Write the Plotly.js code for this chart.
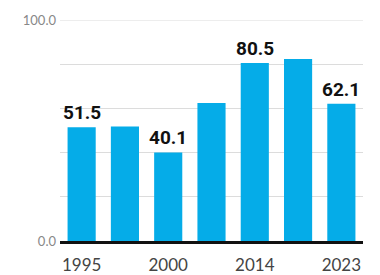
<!DOCTYPE html>
<html><head><meta charset="utf-8">
<script src="https://cdn.plot.ly/plotly-3.0.1.min.js"></script>
<style>html,body{margin:0;padding:0;background:#fff;}#chart{width:380px;height:275px;}</style>
</head><body><div id="chart"></div>
<script>
const categories = ['1995','1997','2000','2008','2014','2018','2023'];
const values = [51.5, 51.8, 40.1, 62.4, 80.5, 82.4, 62.1];
const valueLabels = ['51.5','','40.1','','80.5','','62.1'];
const xTickLabels = ['1995','','2000','','2014','','2023'];
const yTickVals = [0,20,40,60,80,100];
const yTickText = ['0.0','','','','','100.0'];

const annotations = [];
for (let i = 0; i < categories.length; i++) {
  if (valueLabels[i] !== '') {
    annotations.push({x:i, y:values[i], xref:'x', yref:'y', text:'<b>' + valueLabels[i] + '</b>',
      showarrow:false, yanchor:'bottom', yshift:1,
      font:{family:'Roboto', size:19, color:'#111'}});
  }
}

Plotly.newPlot('chart', [{
  type:'bar', x:categories, y:values,
  marker:{color:'#05ace8'}, hoverinfo:'none'
}], {
  width:380, height:275,
  margin:{l:60,r:17,t:20,b:34},
  paper_bgcolor:'#fff', plot_bgcolor:'#fff',
  bargap:0.35, showlegend:false,
  annotations:annotations,
  shapes:[{type:'line', xref:'paper', yref:'y', x0:0, x1:1, y0:100, y1:100, line:{color:'#dcdcdc', width:1}, layer:'below'}],
  xaxis:{type:'category', tickvals:categories, ticktext:xTickLabels,
    showline:true, linecolor:'#111', linewidth:3, showgrid:false, ticks:'',
    tickfont:{family:'Lato', size:17, color:'#444'}, ticklabelstandoff:7, range:[-0.5,6.5]},
  yaxis:{range:[0,100], tickvals:yTickVals, ticktext:yTickText,
    showgrid:true, gridcolor:'#dcdcdc', gridwidth:1, zeroline:false,
    tickfont:{family:'Lato', size:13, color:'#888'}, ticks:'', ticklabelstandoff:3}
}, {displayModeBar:false, staticPlot:true});
</script></body></html>
